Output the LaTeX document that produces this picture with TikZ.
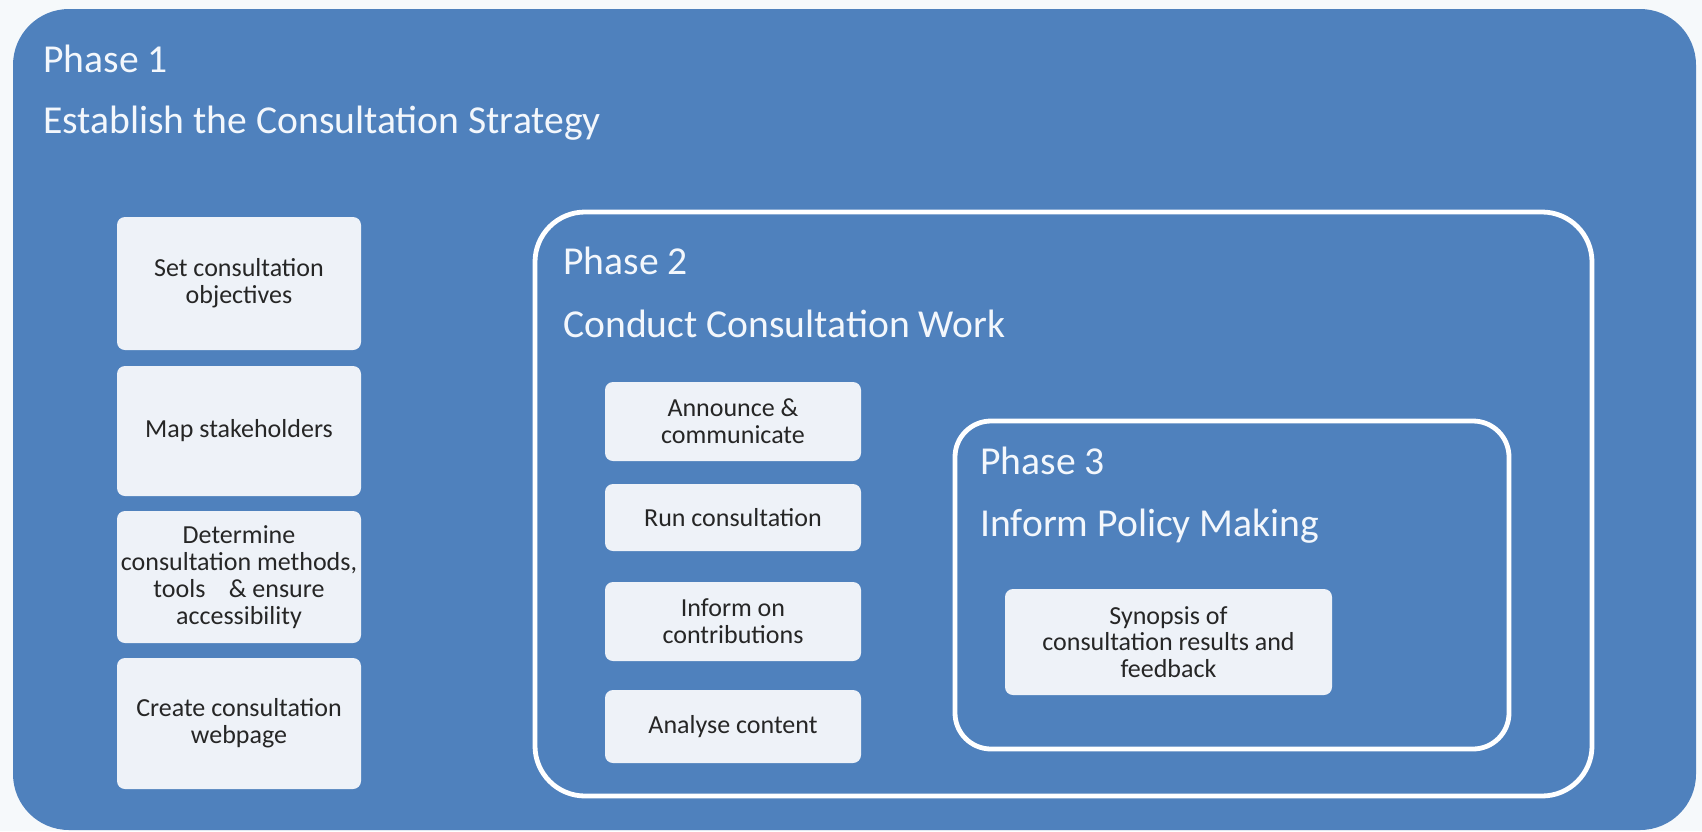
\documentclass[tikz,border=0pt]{standalone}
\usepackage{fontspec}
\setmainfont{Carlito}
\definecolor{phaseblue}{HTML}{4F81BD}
\definecolor{boxfill}{HTML}{EEF2F8}
\definecolor{boxtext}{HTML}{262626}
\definecolor{titletext}{HTML}{F3F7FC}
\definecolor{pagebg}{HTML}{F6F9FB}
\begin{document}
\begin{tikzpicture}[x=0.5pt,y=-0.5pt,
  outerbox/.style={draw=none, fill=phaseblue, rounded corners=28pt, inner sep=0pt, outer sep=0pt},
  framebox/.style={draw=white, line width=2.4pt, fill=none, inner sep=0pt, outer sep=0pt},
  taskbox/.style={fill=boxfill, rounded corners=4pt, text=boxtext, align=center, inner sep=0pt,
    font=\fontsize{13}{13.4}\selectfont},
  titletxt/.style={anchor=base west, text=titletext, inner sep=0pt, font=\fontsize{19.8}{23}\selectfont}]
\useasboundingbox (0,0) rectangle (1702,831);
\fill[pagebg] (0,0) rectangle (1702,831);
% Phase 1
\node[outerbox, minimum width=841.5pt, minimum height=410.5pt] (p1) at (854.5,419.5) {};
\node[titletxt] (p1a) at (43,72) {Phase 1};
\node[titletxt] (p1b) at (43,133) {Establish the Consultation Strategy};
\node[taskbox, minimum width=122pt, minimum height=66.5pt] (a1) at (239,283.5) {Set consultation\\objectives};
\node[taskbox, minimum width=122pt, minimum height=65pt] (a2) at (239,431) {Map stakeholders};
\node[taskbox, minimum width=122pt, minimum height=66pt] (a3) at (239,577) {Determine\\consultation methods,\\tools\hspace{0.9em}\& ensure\\accessibility};
\node[taskbox, minimum width=122pt, minimum height=65.5pt] (a4) at (239,723.5) {Create consultation\\webpage};
% Phase 2
\node[framebox, rounded corners=25pt, minimum width=528.5pt, minimum height=292pt] (p2) at (1063.5,504) {};
\node[titletxt] (p2a) at (563,274) {Phase 2};
\node[titletxt] (p2b) at (563,337) {Conduct Consultation Work};
\node[taskbox, minimum width=128pt, minimum height=39.5pt] (b1) at (733,421.5) {Announce \&\\communicate};
\node[taskbox, minimum width=128pt, minimum height=33.5pt] (b2) at (733,517.5) {Run consultation};
\node[taskbox, minimum width=128pt, minimum height=39.5pt] (b3) at (733,621.5) {Inform on\\contributions};
\node[taskbox, minimum width=128pt, minimum height=36.5pt] (b4) at (733,726.5) {Analyse content};
% Phase 3
\node[framebox, rounded corners=18pt, minimum width=277pt, minimum height=164pt] (p3) at (1232,585) {};
\node[titletxt] (p3a) at (980,474) {Phase 3};
\node[titletxt] (p3b) at (980,536) {Inform Policy Making};
\node[taskbox, minimum width=163.5pt, minimum height=53pt] (c1) at (1168.5,642) {Synopsis of\\consultation results and\\feedback};
\end{tikzpicture}
\end{document}
